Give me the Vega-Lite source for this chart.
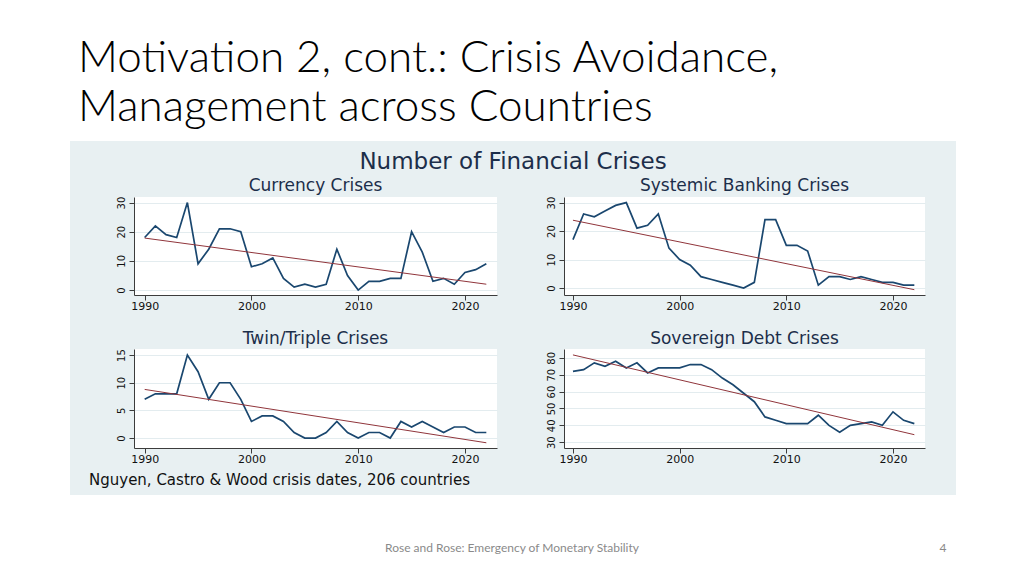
{
  "$schema": "https://vega.github.io/schema/vega-lite/v6.json",
  "background": "#E8F0F2",
  "padding": 0,
  "spacing": 0,
  "config": {
    "view": {"stroke": null},
    "font": "DejaVu Sans",
    "axis": {"labelFont": "DejaVu Sans", "domainColor": "#3C3C3C", "tickColor": "#3C3C3C", "labelColor": "#111111", "domainWidth": 1, "tickWidth": 1},
    "title": {"fontWeight": "normal"}
  },
  "datasets": {
    "crises": [
      {"year": 1990, "currency": 18, "banking": 17, "twin": 7, "sovereign": 72},
      {"year": 1991, "currency": 22, "banking": 26, "twin": 8, "sovereign": 73},
      {"year": 1992, "currency": 19, "banking": 25, "twin": 8, "sovereign": 77},
      {"year": 1993, "currency": 18, "banking": 27, "twin": 8, "sovereign": 75},
      {"year": 1994, "currency": 30, "banking": 29, "twin": 15, "sovereign": 78},
      {"year": 1995, "currency": 9, "banking": 30, "twin": 12, "sovereign": 74},
      {"year": 1996, "currency": 14, "banking": 21, "twin": 7, "sovereign": 77},
      {"year": 1997, "currency": 21, "banking": 22, "twin": 10, "sovereign": 71},
      {"year": 1998, "currency": 21, "banking": 26, "twin": 10, "sovereign": 74},
      {"year": 1999, "currency": 20, "banking": 14, "twin": 7, "sovereign": 74},
      {"year": 2000, "currency": 8, "banking": 10, "twin": 3, "sovereign": 74},
      {"year": 2001, "currency": 9, "banking": 8, "twin": 4, "sovereign": 76},
      {"year": 2002, "currency": 11, "banking": 4, "twin": 4, "sovereign": 76},
      {"year": 2003, "currency": 4, "banking": 3, "twin": 3, "sovereign": 73},
      {"year": 2004, "currency": 1, "banking": 2, "twin": 1, "sovereign": 68},
      {"year": 2005, "currency": 2, "banking": 1, "twin": 0, "sovereign": 64},
      {"year": 2006, "currency": 1, "banking": 0, "twin": 0, "sovereign": 59},
      {"year": 2007, "currency": 2, "banking": 2, "twin": 1, "sovereign": 54},
      {"year": 2008, "currency": 14, "banking": 24, "twin": 3, "sovereign": 45},
      {"year": 2009, "currency": 5, "banking": 24, "twin": 1, "sovereign": 43},
      {"year": 2010, "currency": 0, "banking": 15, "twin": 0, "sovereign": 41},
      {"year": 2011, "currency": 3, "banking": 15, "twin": 1, "sovereign": 41},
      {"year": 2012, "currency": 3, "banking": 13, "twin": 1, "sovereign": 41},
      {"year": 2013, "currency": 4, "banking": 1, "twin": 0, "sovereign": 46},
      {"year": 2014, "currency": 4, "banking": 4, "twin": 3, "sovereign": 40},
      {"year": 2015, "currency": 20, "banking": 4, "twin": 2, "sovereign": 36},
      {"year": 2016, "currency": 13, "banking": 3, "twin": 3, "sovereign": 40},
      {"year": 2017, "currency": 3, "banking": 4, "twin": 2, "sovereign": 41},
      {"year": 2018, "currency": 4, "banking": 3, "twin": 1, "sovereign": 42},
      {"year": 2019, "currency": 2, "banking": 2, "twin": 2, "sovereign": 40},
      {"year": 2020, "currency": 6, "banking": 2, "twin": 2, "sovereign": 48},
      {"year": 2021, "currency": 7, "banking": 1, "twin": 1, "sovereign": 43},
      {"year": 2022, "currency": 9, "banking": 1, "twin": 1, "sovereign": 41}
    ]
  },
  "vconcat": [
    {
      "width": 1024, "height": 141,
      "view": {"fill": "white", "stroke": null},
      "data": {"values": [{}]},
      "mark": {"type": "point", "opacity": 0},
      "title": {"text": ["Motivation 2, cont.: Crisis Avoidance,", "Management across Countries"], "orient": "top", "anchor": "start", "frame": "group", "offset": -130, "dx": 78, "font": "Lato", "fontWeight": 300, "fontSize": 44, "lineHeight": 49, "color": "#000000"}
    },
    {
      "spacing": 18,
      "hconcat": [
        {
          "width": 70, "height": 354,
          "view": {"fill": "white", "stroke": null},
          "data": {"values": [{}]},
          "mark": {"type": "point", "opacity": 0}
        },
        {
          "spacing": 3,
          "title": {"text": "Nguyen, Castro & Wood crisis dates, 206 countries", "orient": "bottom", "anchor": "start", "frame": "bounds", "offset": 9, "dx": -27, "fontSize": 15, "font": "DejaVu Sans", "fontWeight": "normal", "color": "#111111"},
          "vconcat": [
            {
              "width": 804, "height": 6,
              "data": {"values": [{}]},
              "mark": {"type": "point", "opacity": 0},
              "title": {"text": "Number of Financial Crises", "orient": "bottom", "anchor": "middle", "frame": "group", "offset": 4, "dx": -23, "fontSize": 23, "font": "DejaVu Sans", "fontWeight": "normal", "color": "#1C2E4A"}
            },
            {
              "spacing": 18,
              "vconcat": [
                {
                  "spacing": 48,
                  "hconcat": [
                    {
                      "width": 363, "height": 98,
                      "view": {"fill": "white", "stroke": null},
                      "title": {"text": "Currency Crises", "fontSize": 17, "font": "DejaVu Sans", "fontWeight": "normal", "color": "#1C2E4A", "offset": 1, "anchor": "middle", "frame": "group"},
                      "data": {"name": "crises"},
                      "encoding": {
                        "x": {"field": "year", "type": "quantitative", "scale": {"domain": [1989, 2023], "nice": false, "zero": false},
                              "axis": {"values": [1990, 2000, 2010, 2020], "format": "d", "title": null, "grid": false, "tickSize": 5, "labelFontSize": 11, "labelPadding": 0, "labelFlush": false}},
                        "y": {"field": "currency", "type": "quantitative", "scale": {"domain": [-1.7, 31.9], "nice": false, "zero": false},
                              "axis": {"values": [0, 10, 20, 30], "title": null, "grid": true, "gridColor": "#E3ECEF", "tickSize": 5, "labelAngle": -90, "labelAlign": "center", "labelBaseline": "bottom", "labelFontSize": 10, "labelPadding": 3}}
                      },
                      "layer": [
                        {"mark": {"type": "line", "color": "#1A476F", "strokeWidth": 1.7}},
                        {"transform": [{"regression": "currency", "on": "year", "extent": [1990, 2022]}], "mark": {"type": "line", "color": "#90353B", "strokeWidth": 1}},
                        {"data": {"values": [{"label": "Slope = -.5 (.1)"}]}, "mark": {"type": "text", "align": "left", "baseline": "middle", "fontSize": 14, "color": "#111111"},
                         "encoding": {"x": {"datum": 1990.8}, "y": {"datum": 3.1}, "text": {"field": "label"}}}
                      ]
                    },
                    {
                      "width": 361, "height": 98,
                      "view": {"fill": "white", "stroke": null},
                      "title": {"text": "Systemic Banking Crises", "fontSize": 17, "font": "DejaVu Sans", "fontWeight": "normal", "color": "#1C2E4A", "offset": 1, "anchor": "middle", "frame": "group"},
                      "data": {"name": "crises"},
                      "encoding": {
                        "x": {"field": "year", "type": "quantitative", "scale": {"domain": [1989.16, 2023], "nice": false, "zero": false},
                              "axis": {"values": [1990, 2000, 2010, 2020], "format": "d", "title": null, "grid": false, "tickSize": 5, "labelFontSize": 11, "labelPadding": 0, "labelFlush": false}},
                        "y": {"field": "banking", "type": "quantitative", "scale": {"domain": [-2.45, 31.95], "nice": false, "zero": false},
                              "axis": {"values": [0, 10, 20, 30], "title": null, "grid": true, "gridColor": "#E3ECEF", "tickSize": 5, "labelAngle": -90, "labelAlign": "center", "labelBaseline": "bottom", "labelFontSize": 10, "labelPadding": 3}}
                      },
                      "layer": [
                        {"mark": {"type": "line", "color": "#1A476F", "strokeWidth": 1.7}},
                        {"transform": [{"regression": "banking", "on": "year", "extent": [1990, 2022]}], "mark": {"type": "line", "color": "#90353B", "strokeWidth": 1}},
                        {"data": {"values": [{"label": "Slope = -.8 (.1)"}]}, "mark": {"type": "text", "align": "left", "baseline": "middle", "fontSize": 14, "color": "#111111"},
                         "encoding": {"x": {"datum": 1990.75}, "y": {"datum": 2.8}, "text": {"field": "label"}}}
                      ]
                    }
                  ]
                },
                {
                  "spacing": 48,
                  "hconcat": [
                    {
                      "width": 363, "height": 99,
                      "view": {"fill": "white", "stroke": null},
                      "title": {"text": "Twin/Triple Crises", "fontSize": 17, "font": "DejaVu Sans", "fontWeight": "normal", "color": "#1C2E4A", "offset": 1, "anchor": "middle", "frame": "group"},
                      "data": {"name": "crises"},
                      "encoding": {
                        "x": {"field": "year", "type": "quantitative", "scale": {"domain": [1989, 2023], "nice": false, "zero": false},
                              "axis": {"values": [1990, 2000, 2010, 2020], "format": "d", "title": null, "grid": false, "tickSize": 5, "labelFontSize": 11, "labelPadding": 0, "labelFlush": false}},
                        "y": {"field": "twin", "type": "quantitative", "scale": {"domain": [-1.8, 16.1], "nice": false, "zero": false},
                              "axis": {"values": [0, 5, 10, 15], "title": null, "grid": true, "gridColor": "#E3ECEF", "tickSize": 5, "labelAngle": -90, "labelAlign": "center", "labelBaseline": "bottom", "labelFontSize": 10, "labelPadding": 3}}
                      },
                      "layer": [
                        {"mark": {"type": "line", "color": "#1A476F", "strokeWidth": 1.7}},
                        {"transform": [{"regression": "twin", "on": "year", "extent": [1990, 2022]}], "mark": {"type": "line", "color": "#90353B", "strokeWidth": 1}},
                        {"data": {"values": [{"label": "Slope = -.3 (.05)"}]}, "mark": {"type": "text", "align": "left", "baseline": "middle", "fontSize": 14, "color": "#111111"},
                         "encoding": {"x": {"datum": 1990.5}, "y": {"datum": 1.45}, "text": {"field": "label"}}}
                      ]
                    },
                    {
                      "width": 361, "height": 99,
                      "view": {"fill": "white", "stroke": null},
                      "title": {"text": "Sovereign Debt Crises", "fontSize": 17, "font": "DejaVu Sans", "fontWeight": "normal", "color": "#1C2E4A", "offset": 1, "anchor": "middle", "frame": "group"},
                      "data": {"name": "crises"},
                      "encoding": {
                        "x": {"field": "year", "type": "quantitative", "scale": {"domain": [1989.16, 2023], "nice": false, "zero": false},
                              "axis": {"values": [1990, 2000, 2010, 2020], "format": "d", "title": null, "grid": false, "tickSize": 5, "labelFontSize": 11, "labelPadding": 0, "labelFlush": false}},
                        "y": {"field": "sovereign", "type": "quantitative", "scale": {"domain": [26.6, 85.2], "nice": false, "zero": false},
                              "axis": {"values": [30, 40, 50, 60, 70, 80], "title": null, "grid": true, "gridColor": "#E3ECEF", "tickSize": 5, "labelAngle": -90, "labelAlign": "center", "labelBaseline": "bottom", "labelFontSize": 10, "labelPadding": 3}}
                      },
                      "layer": [
                        {"mark": {"type": "line", "color": "#1A476F", "strokeWidth": 1.7}},
                        {"transform": [{"regression": "sovereign", "on": "year", "extent": [1990, 2022]}], "mark": {"type": "line", "color": "#90353B", "strokeWidth": 1}},
                        {"data": {"values": [{"label": "Slope = -1.5 (.1)"}]}, "mark": {"type": "text", "align": "left", "baseline": "middle", "fontSize": 14, "color": "#111111"},
                         "encoding": {"x": {"datum": 1990.4}, "y": {"datum": 34.7}, "text": {"field": "label"}}}
                      ]
                    }
                  ]
                }
              ]
            }
          ]
        },
        {
          "width": 69, "height": 354,
          "view": {"fill": "white", "stroke": null},
          "data": {"values": [{}]},
          "mark": {"type": "point", "opacity": 0}
        }
      ]
    },
    {
      "spacing": 0,
      "hconcat": [
        {
          "width": 886, "height": 81,
          "view": {"fill": "white", "stroke": null},
          "data": {"values": [{}]},
          "mark": {"type": "point", "opacity": 0},
          "title": {"text": "Rose and Rose: Emergency of Monetary Stability", "orient": "top", "anchor": "middle", "frame": "group", "offset": -60, "dx": 69, "font": "Lato", "fontSize": 12, "fontWeight": "normal", "color": "#8A8A8A"}
        },
        {
          "width": 138, "height": 81,
          "view": {"fill": "white", "stroke": null},
          "data": {"values": [{}]},
          "mark": {"type": "point", "opacity": 0},
          "title": {"text": "4", "orient": "top", "anchor": "middle", "frame": "group", "offset": -60, "dx": -12, "font": "Lato", "fontSize": 12, "fontWeight": "normal", "color": "#8A8A8A"}
        }
      ]
    }
  ]
}
